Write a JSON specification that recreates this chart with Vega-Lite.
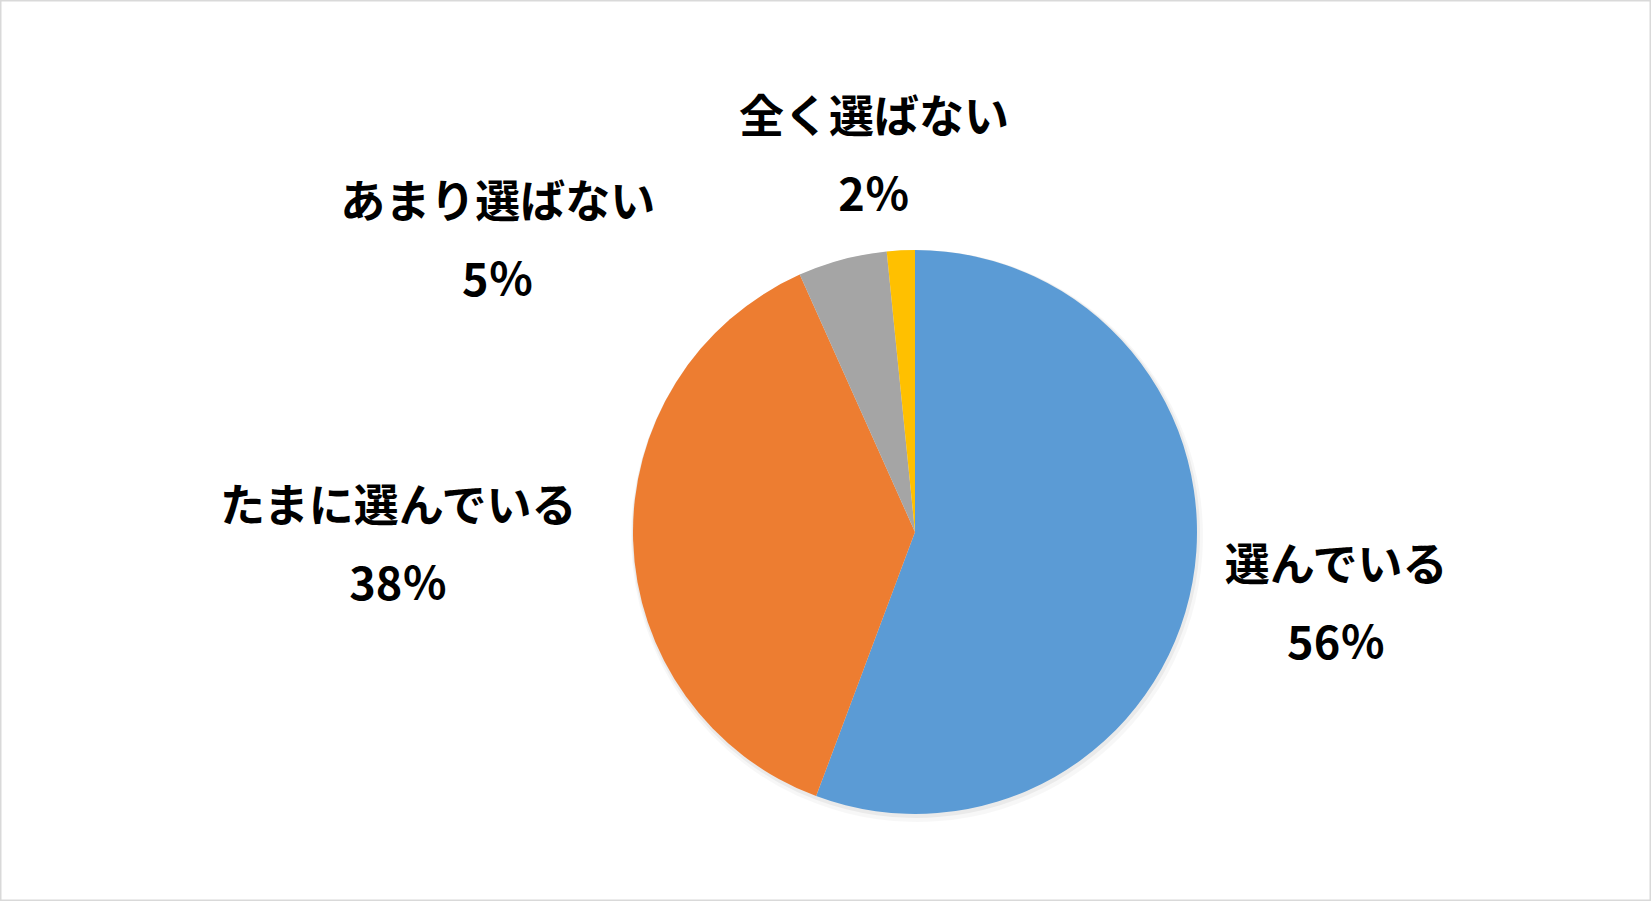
{
  "$schema": "https://vega.github.io/schema/vega-lite/v6.json",
  "width": 1651,
  "height": 901,
  "autosize": {"type": "none"},
  "padding": 0,
  "background": "white",
  "view": {"stroke": "#D9D9D9", "strokeWidth": 3},
  "config": {
    "view": {"stroke": "#D9D9D9", "strokeWidth": 3},
    "text": {"font": "Noto Sans CJK JP", "fontWeight": "bold", "fontSize": 45, "lineHeight": 78, "lineBreak": "\n", "color": "#000000", "align": "center", "baseline": "middle"}
  },
  "data": {
    "values": [
      {"answer": "選んでいる", "value": 55.7},
      {"answer": "たまに選んでいる", "value": 37.6},
      {"answer": "あまり選ばない", "value": 5.1},
      {"answer": "全く選ばない", "value": 1.6}
    ]
  },
  "transform": [
    {"calculate": "datum.answer + '\\n' + round(datum.value) + '％'", "as": "label"}
  ],
  "encoding": {
    "theta": {"field": "value", "type": "quantitative", "stack": true},
    "order": {"field": "value", "sort": "descending"},
    "detail": {"field": "answer", "type": "nominal"}
  },
  "layer": [
    {
      "mark": {"type": "arc", "x": 917, "y": 536, "outerRadius": 286, "color": "#000000", "opacity": 0.03}
    },
    {
      "mark": {"type": "arc", "x": 916, "y": 534, "outerRadius": 284, "color": "#000000", "opacity": 0.05}
    },
    {
      "mark": {"type": "arc", "x": 915, "y": 532, "outerRadius": 282},
      "encoding": {
        "color": {
          "field": "answer",
          "type": "nominal",
          "scale": {
            "domain": ["選んでいる", "たまに選んでいる", "あまり選ばない", "全く選ばない"],
            "range": ["#5B9BD5", "#ED7D31", "#A5A5A5", "#FFC000"]
          },
          "legend": null
        }
      }
    },
    {
      "mark": {"type": "text", "x": 915, "y": 532, "radius": 428, "dy": -41},
      "encoding": {
        "text": {"condition": {"test": "datum.answer === '選んでいる'", "field": "label"}, "value": ""}
      }
    },
    {
      "mark": {"type": "text", "x": 915, "y": 532, "radius": 517, "dy": -40},
      "encoding": {
        "text": {"condition": {"test": "datum.answer === 'たまに選んでいる'", "field": "label"}, "value": ""}
      }
    },
    {
      "mark": {"type": "text", "x": 915, "y": 532, "radius": 389, "dx": -317, "dy": 48},
      "encoding": {
        "text": {"condition": {"test": "datum.answer === 'あまり選ばない'", "field": "label"}, "value": ""}
      }
    },
    {
      "mark": {"type": "text", "x": 915, "y": 532, "radius": 378, "dx": -22, "dy": -35},
      "encoding": {
        "text": {"condition": {"test": "datum.answer === '全く選ばない'", "field": "label"}, "value": ""}
      }
    }
  ]
}
